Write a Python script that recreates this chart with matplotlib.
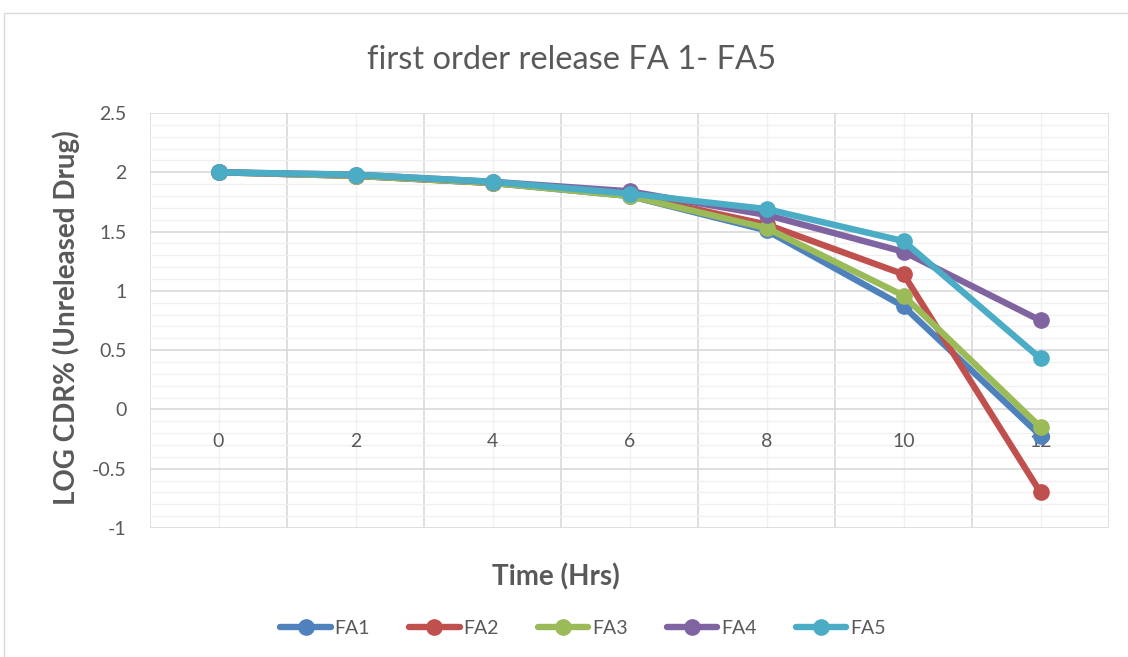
import numpy as np
import matplotlib
matplotlib.use("Agg")
import matplotlib.pyplot as plt
from matplotlib.patches import Rectangle

plt.rcParams['font.family'] = ['Lato', 'DejaVu Sans']

time_labels = ["0", "2", "4", "6", "8", "10", "12"]
series_names = ["FA1", "FA2", "FA3", "FA4", "FA5"]
fa1 = [2.00, 1.97, 1.91, 1.80, 1.51, 0.87, -0.22]
fa2 = [2.00, 1.97, 1.91, 1.81, 1.56, 1.14, -0.70]
fa3 = [2.00, 1.97, 1.91, 1.80, 1.53, 0.96, -0.15]
fa4 = [2.00, 1.98, 1.92, 1.84, 1.64, 1.33, 0.75]
fa5 = [2.00, 1.98, 1.92, 1.82, 1.69, 1.42, 0.43]
colors = ["#4F81BD", "#C0504D", "#9BBB59", "#8064A2", "#4BACC6"]

fig = plt.figure(figsize=(11.28, 6.57), dpi=100)
fig.patch.set_facecolor("white")
fig.add_artist(Rectangle((4/1128, -0.01), 1.0, 1 - 13/657 + 0.01, transform=fig.transFigure,
                         fill=False, edgecolor="#D9D9D9", linewidth=1.0))

ax = fig.add_axes([150/1128, 1 - 528/657, (1109 - 150)/1128, (528 - 113)/657])
x = np.arange(len(time_labels))
for vals, name, c in zip([fa1, fa2, fa3, fa4, fa5], series_names, colors):
    ax.plot(x, vals, color=c, linewidth=4.6, marker='o', markersize=11,
            label=name, solid_capstyle='round', zorder=3)

ax.set_xlim(-0.5, len(time_labels) - 0.5)
ax.set_ylim(-1, 2.5)
ax.set_yticks(np.arange(-1, 2.51, 0.5))
ax.set_yticklabels(["-1", "-0.5", "0", "0.5", "1", "1.5", "2", "2.5"])
ax.set_yticks(np.arange(-1, 2.51, 0.1), minor=True)
ax.set_xticks(x)
ax.set_xticklabels([])
ax.set_xticks(np.arange(-0.5, len(time_labels), 1), minor=True)

# category labels sit just below the y=0 line (Excel "axis crosses at 0")
for xi, lab in zip(x, time_labels):
    ax.annotate(lab, (xi, 0), xytext=(0, -32), textcoords='offset pixels',
                ha='center', va='center', fontsize=14, color="#595959", zorder=2)

ax.grid(True, which='major', axis='y', color="#D9D9D9", linewidth=1.2, zorder=1)
ax.grid(True, which='minor', axis='y', color="#F0F0F0", linewidth=1.0, zorder=0)
ax.grid(True, which='minor', axis='x', color="#D9D9D9", linewidth=1.2, zorder=1)
ax.grid(True, which='major', axis='x', color="#F0F0F0", linewidth=1.0, zorder=0)
ax.set_axisbelow(True)

for s in ['top', 'right', 'left', 'bottom']:
    ax.spines[s].set_visible(False)

ax.tick_params(axis='both', which='both', length=0, labelsize=14, labelcolor="#595959")
ax.tick_params(axis='y', pad=17)

fig.text(572/1128, 1 - 60/657, "first order release FA 1- FA5", ha='center', va='center',
         fontsize=23.5, color="#595959")
fig.text(66/1128, 1 - 318/657, "LOG CDR% (Unreleased Drug)", ha='center', va='center',
         rotation=90, fontsize=20, fontweight='bold', color="#595959")
fig.text(556/1128, 1 - 577/657, "Time (Hrs)", ha='center', va='center',
         fontsize=20, fontweight='bold', color="#595959")

leg = fig.legend(loc='center', bbox_to_anchor=(583/1128, 1 - 628/657), ncol=5, frameon=False,
                 fontsize=14, handlelength=2.6, columnspacing=2.0, handletextpad=0.2)
for t in leg.get_texts():
    t.set_color("#595959")

fig.savefig("out.png", dpi=100, facecolor="white")
